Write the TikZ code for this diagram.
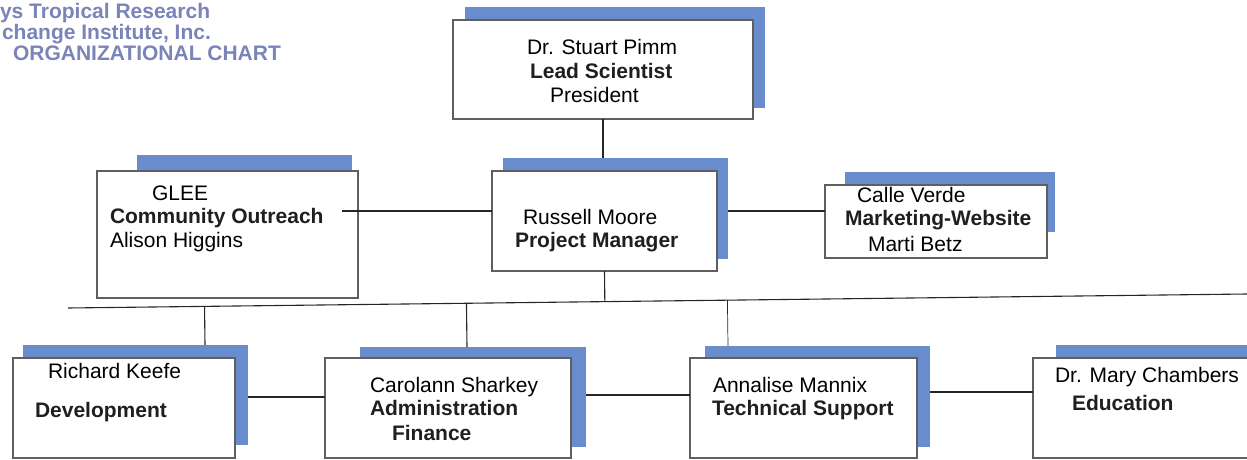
\documentclass[tikz,border=0pt]{standalone}
\usepackage{fontspec}
\setmainfont{Liberation Sans}
\usetikzlibrary{calc}
\definecolor{shadowblue}{RGB}{105,140,205}
\definecolor{titleblue}{RGB}{122,132,184}
\definecolor{boxline}{RGB}{95,95,95}
\begin{document}
\begin{tikzpicture}[x=1pt,y=-1pt,
  every node/.style={inner sep=0pt, outer sep=0pt},
  wbox/.style={draw=boxline, line width=1.1pt, fill=white, rectangle},
  sbox/.style={fill=shadowblue, rectangle},
  txt/.style={anchor=base west, font=\fontsize{21}{24}\selectfont},
  btxt/.style={anchor=base west, font=\fontsize{21}{24}\selectfont\bfseries, text=black!88},
  ttl/.style={anchor=base west, font=\fontsize{21}{22}\selectfont\bfseries, text=titleblue},
  conn/.style={draw=black!85, line width=1.1pt}]
\useasboundingbox (0,0) rectangle (1247,460);

% title
\node[ttl] (t1) at (0,19) {ys Tropical Research};
\node[ttl] (t2) at (2,40) {change Institute, Inc.};
\node[ttl] (t3) at (13,61) {ORGANIZATIONAL CHART};

% shadows
\node[sbox, minimum width=300pt, minimum height=101pt] (tops) at (615,57.5) {};
\node[sbox, minimum width=215pt, minimum height=85pt] (glees) at (244.5,197.5) {};
\node[sbox, minimum width=225pt, minimum height=101pt] (russs) at (615.5,208.5) {};
\node[sbox, minimum width=210pt, minimum height=60pt] (calles) at (950,202) {};
\node[sbox, minimum width=225pt, minimum height=100pt] (devs) at (135.5,395) {};
\node[sbox, minimum width=226pt, minimum height=100pt] (carols) at (473,397) {};
\node[sbox, minimum width=225pt, minimum height=101pt] (annas) at (817.5,396.5) {};
\node[sbox, minimum width=224pt, minimum height=100pt] (marys) at (1168,395) {};

% white boxes
\node[wbox, minimum width=300pt, minimum height=99pt] (top) at (603,69.5) {};
\node[wbox, minimum width=261pt, minimum height=127pt] (glee) at (227.5,234.5) {};
\node[wbox, minimum width=225pt, minimum height=100pt] (russ) at (604.5,221) {};
\node[wbox, minimum width=222pt, minimum height=73pt] (calle) at (936,221.5) {};
\node[wbox, minimum width=222pt, minimum height=100pt] (dev) at (124,408) {};
\node[wbox, minimum width=246pt, minimum height=100pt] (carol) at (448,408) {};
\node[wbox, minimum width=227pt, minimum height=100pt] (anna) at (803.5,408) {};
\node[wbox, minimum width=230pt, minimum height=100pt] (mary) at (1148,408) {};

% texts
\node[txt] (top1) at (527,55) {Dr. Stuart Pimm};
\node[btxt] (top2) at (530,78) {Lead Scientist};
\node[txt] (top3) at (550,102) {President};

\node[txt] (g1) at (152,200) {GLEE};
\node[btxt] (g2) at (110,223) {Community Outreach};
\node[txt] (g3) at (110,247) {Alison Higgins};

\node[txt] (r1) at (523,224) {Russell Moore};
\node[btxt] (r2) at (515,247) {Project Manager};

\node[txt] (c1) at (857,202) {Calle Verde};
\node[btxt] (c2) at (845,225) {Marketing-Website};
\node[txt] (c3) at (868,251) {Marti Betz};

\node[txt] (d1) at (48,378) {Richard Keefe};
\node[btxt] (d2) at (35,417) {Development};

\node[txt] (ca1) at (370,392) {Carolann Sharkey};
\node[btxt] (ca2) at (370,415) {Administration};
\node[btxt] (ca3) at (392,440) {Finance};

\node[txt] (a1) at (713,392) {Annalise Mannix};
\node[btxt] (a2) at (712,415) {Technical Support};

\node[txt] (m1) at (1055,382) {Dr. Mary Chambers};
\node[btxt] (m2) at (1072,410) {Education};

% connector coordinates
\coordinate (lineL) at (68,308);
\coordinate (lineR) at (1247,294);
\coordinate (devtop) at (205,345);
\coordinate (caroltop) at (467,347);
\coordinate (annatop) at (728,346);

% connectors
\draw[conn] (top.south) -- (top.south |- russs.north);
\draw[conn] ($(glee.east |- russ.west)+(-16pt,10pt)$) -- ($(russ.west)+(0,10pt)$);
\draw[conn] ($(russs.east |- russ.west)+(0,10pt)$) -- ($(calle.west |- russ.west)+(0,10pt)$);
\draw[conn] (russ.south) -- ($(lineL)!(russ.south)!(lineR)$);
\draw[conn] (lineL) -- (lineR);
\draw[conn] (devtop) -- ($(lineL)!(devtop)!(lineR)$);
\draw[conn] (caroltop) -- ($(lineL)!(caroltop)!(lineR)$);
\draw[conn, line width=0.7pt] (annatop) -- ($(lineL)!(annatop)!(lineR)$);
\draw[conn] ($(devs.east |- dev.center)+(0,11pt)$) -- ($(carol.west)+(0,11pt)$);
\draw[conn] ($(carols.east |- carol.center)+(0,13pt)$) -- ($(anna.west)+(0,13pt)$);
\draw[conn] ($(annas.east |- anna.center)+(0,16pt)$) -- ($(mary.west)+(0,16pt)$);
\end{tikzpicture}
\end{document}
